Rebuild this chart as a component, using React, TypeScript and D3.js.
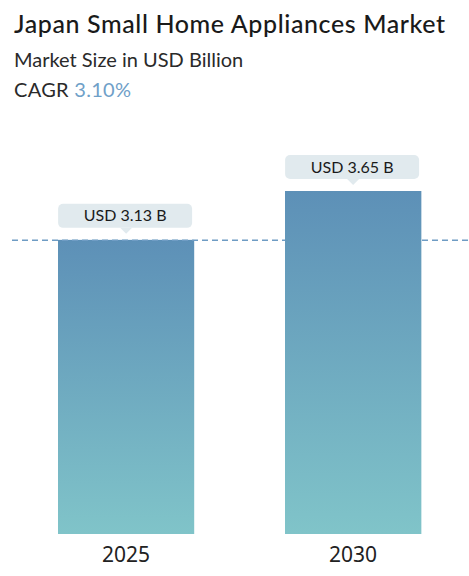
import { useEffect, useRef } from "react"
import * as d3 from "d3"

const years = ["2025", "2030"]
const values = [3.13, 3.65]
const labels = ["USD 3.13 B", "USD 3.65 B"]
const title = "Japan Small Home Appliances Market"
const subtitle = "Market Size in USD Billion"
const cagr = "3.10%"

const W = 469, H = 576

export default function App() {
  const ref = useRef<SVGSVGElement>(null)
  useEffect(() => {
    if (!ref.current) return
    const root = d3.select(ref.current)
    root.selectAll("*").remove()
    const font = "Lato, 'Noto Sans', sans-serif"

    const defs = root.append("defs")
    const grad = defs.append("linearGradient").attr("id", "barGrad").attr("x1", 0).attr("y1", 0).attr("x2", 0).attr("y2", 1)
    grad.append("stop").attr("offset", "0%").attr("stop-color", "#5d90b7")
    grad.append("stop").attr("offset", "100%").attr("stop-color", "#80c4c9")

    // titles
    root.append("text").attr("x", 14).attr("y", 33).style("font-family", font).style("font-size", "25px")
      .style("font-weight", 500).style("letter-spacing", "0.6px").style("fill", "#1a1a1a").text(title)
    root.append("text").attr("x", 14).attr("y", 67).style("font-family", font).style("font-size", "20px")
      .style("fill", "#2a2a2a").text(subtitle)
    const c = root.append("text").attr("x", 14).attr("y", 97).style("font-family", font).style("font-size", "20px")
      .style("letter-spacing", "0.3px").style("fill", "#2a2a2a")
    c.append("tspan").text("CAGR ")
    c.append("tspan").style("fill", "#6fa0c8").text(cagr)

    const x = d3.scaleBand().domain(years).range([12.6, 466.6]).paddingInner(0.4).paddingOuter(0.2)
    const y = d3.scaleLinear().domain([0, 3.65]).range([534, 191])

    // bars
    root.selectAll("rect.bar").data(values).join("rect").attr("class", "bar")
      .attr("x", (_, i) => x(years[i])!).attr("width", x.bandwidth())
      .attr("y", d => y(d)).attr("height", d => y(0) - y(d)).attr("fill", "url(#barGrad)")

    // dashed reference at first value
    root.append("line").attr("x1", 12).attr("x2", W).attr("y1", y(values[0]) + 0.5).attr("y2", y(values[0]) + 0.5)
      .attr("stroke", "#6f9cc4").attr("stroke-width", 1.5).attr("stroke-dasharray", "6,4")
    // re-draw second bar over the line
    root.append("rect").attr("x", x(years[1])!).attr("width", x.bandwidth())
      .attr("y", y(values[1])).attr("height", y(0) - y(values[1])).attr("fill", "url(#barGrad)")

    // value bubbles
    values.forEach((v, i) => {
      const cx = x(years[i])! + x.bandwidth() / 2
      const bw = 134, bh = 24
      const tip = y(v) - 6
      const top = tip - 6 - bh
      const g = root.append("g")
      g.append("rect").attr("x", cx - bw / 2 - 1).attr("y", top).attr("width", bw).attr("height", bh).attr("rx", 5).attr("fill", "#e1eaee")
      g.append("path").attr("d", `M${cx - 6},${top + bh} L${cx},${tip} L${cx + 6},${top + bh} Z`).attr("fill", "#e1eaee")
      g.append("text").attr("x", cx - 1).attr("y", top + bh / 2 + 5.5).attr("text-anchor", "middle")
        .style("font-family", font).style("font-size", "16px").style("fill", "#1a1a1a").text(labels[i])
    })

    // year labels
    root.selectAll("text.year").data(years).join("text").attr("class", "year")
      .attr("x", d => x(d)! + x.bandwidth() / 2).attr("y", 562).attr("text-anchor", "middle")
      .style("font-family", "'Noto Sans', sans-serif").style("font-size", "21px").style("fill", "#222").text(d => d)
  }, [])
  return <svg ref={ref} width={W} height={H} style={{ display: "block", position: "absolute", left: 0, top: 0 }} />
}
